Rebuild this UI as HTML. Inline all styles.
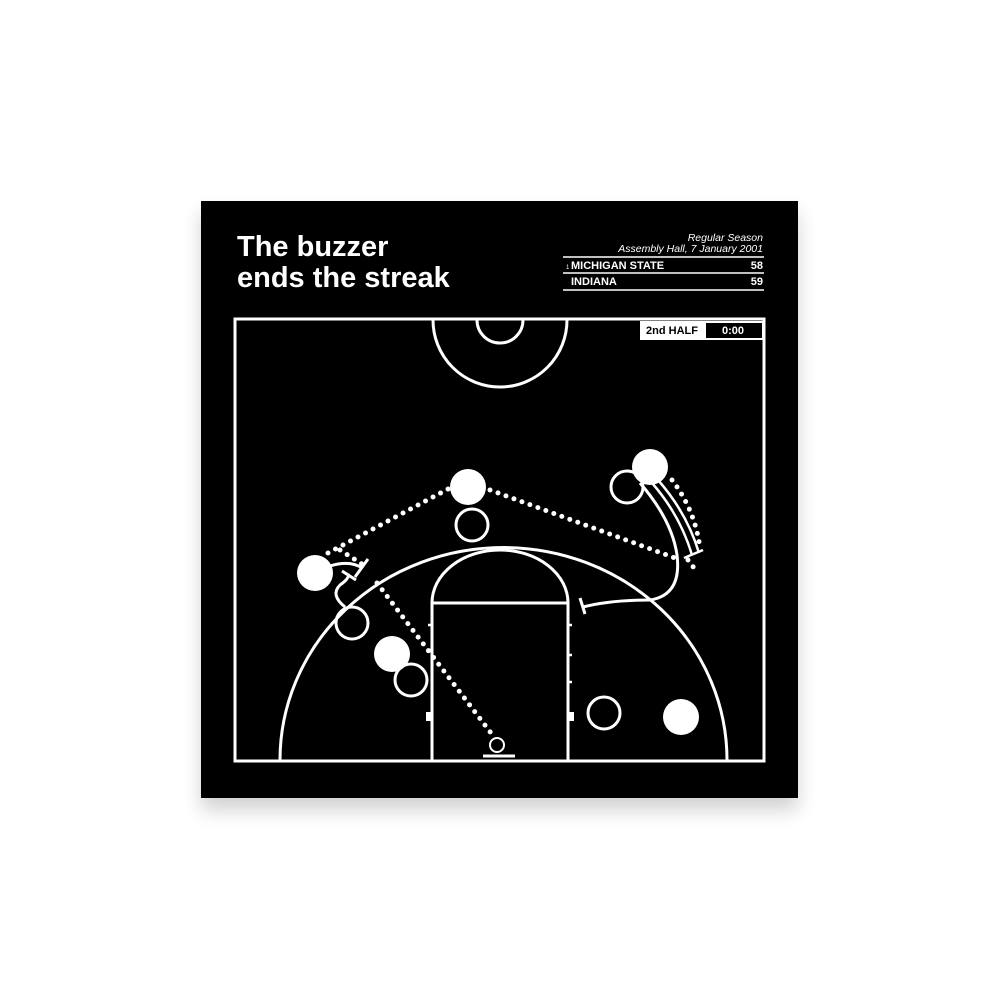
<!DOCTYPE html>
<html><head><style>
body{margin:0;background:#fff;width:1000px;height:1000px;overflow:hidden;position:relative;font-family:"Liberation Sans",sans-serif}
.p{position:absolute;left:201px;top:201px;width:597px;height:597px;background:#000;box-shadow:0 12px 18px rgba(0,0,0,0.18)}
</style></head><body>
<div class="p"></div>
<svg width="1000" height="1000" style="position:absolute;left:0;top:0" font-family="Liberation Sans, sans-serif">
<text x="237" y="256" fill="#fff" font-size="29" font-weight="bold">The buzzer</text>
<text x="237" y="287" fill="#fff" font-size="29" font-weight="bold">ends the streak</text>
<text x="763" y="241" fill="#fff" font-size="10.5" font-style="italic" text-anchor="end">Regular Season</text>
<text x="763" y="252" fill="#fff" font-size="10.5" font-style="italic" text-anchor="end">Assembly Hall, 7 January 2001</text>
<g stroke="#fff" stroke-width="1.5"><line x1="563" y1="257" x2="764" y2="257"/><line x1="563" y1="273" x2="764" y2="273"/><line x1="563" y1="290" x2="764" y2="290"/></g>
<text x="566" y="269" fill="#fff" font-size="6">1</text>
<text x="571" y="269" fill="#fff" font-size="11" font-weight="bold">MICHIGAN STATE</text>
<text x="763" y="269" fill="#fff" font-size="11" font-weight="bold" text-anchor="end">58</text>
<text x="571" y="285" fill="#fff" font-size="11" font-weight="bold">INDIANA</text>
<text x="763" y="285" fill="#fff" font-size="11" font-weight="bold" text-anchor="end">59</text>
<g fill="none" stroke="#fff" stroke-width="3">
<rect x="235" y="319" width="529" height="442"/>
<path d="M433 320 A67 67 0 0 0 567 320"/>
<path d="M477 320 A23 23 0 0 0 523 320"/>
<path d="M280 760 A223 212 0 0 1 727 760"/>
<path d="M432 760 V603 H568 V760"/>
<path d="M432 603 A68 53 0 0 1 568 603"/>
<circle cx="472" cy="525" r="16"/><circle cx="352" cy="623" r="16"/><circle cx="411" cy="680" r="16"/><circle cx="604" cy="713" r="16"/><circle cx="627" cy="487" r="16"/>
<circle cx="497" cy="745" r="7" stroke-width="2"/>
<path d="M640 483 Q672 520 677 555 Q682 595 650 600 Q610 600 583 607"/>
<path d="M580 598 L585 614"/>
<path d="M330 566 Q350 560 362 568"/><path d="M355 577 L368 559"/>
<path d="M345 607 Q330 595 340 585 Q350 578 348 574"/><path d="M342 571 L356 580"/>
</g>
<g stroke="#fff" stroke-width="2.5" fill="none"><path d="M652 483 Q680 515 692 555"/><path d="M658 480 Q687 513 699 553"/><path d="M684 558 L703 550"/>
<line x1="428" y1="625" x2="432" y2="625"/><line x1="428" y1="650" x2="432" y2="650"/><line x1="568" y1="625" x2="572" y2="625"/><line x1="568" y1="655" x2="572" y2="655"/><line x1="568" y1="682" x2="572" y2="682"/>
<line x1="483" y1="756" x2="515" y2="756" stroke-width="3"/></g>
<rect x="426" y="712" width="5" height="9" fill="#fff"/><rect x="569" y="712" width="5" height="9" fill="#fff"/>
<g stroke="#fff" stroke-width="5" stroke-linecap="round" stroke-dasharray="0 8.5" fill="none">
<path d="M328 553 L450 488"/><path d="M490 490 L675 558"/><path d="M377 583 L494 737"/>
<path d="M672 480 Q695 510 700 548"/><path d="M688 560 L694 568"/>
<path d="M340 550 L365 566"/>
</g>
<g fill="#fff"><circle cx="468" cy="487" r="18"/><circle cx="315" cy="573" r="18"/><circle cx="392" cy="654" r="18"/><circle cx="681" cy="717" r="18"/><circle cx="650" cy="467" r="18"/></g>
<rect x="640" y="321" width="124" height="19" fill="#fff"/>
<rect x="706" y="323" width="56" height="15" fill="#000"/>
<text x="672" y="334" font-size="11" font-weight="bold" text-anchor="middle">2nd HALF</text>
<text x="733" y="334" font-size="11" font-weight="bold" fill="#fff" text-anchor="middle">0:00</text>
</svg>
</body></html>
